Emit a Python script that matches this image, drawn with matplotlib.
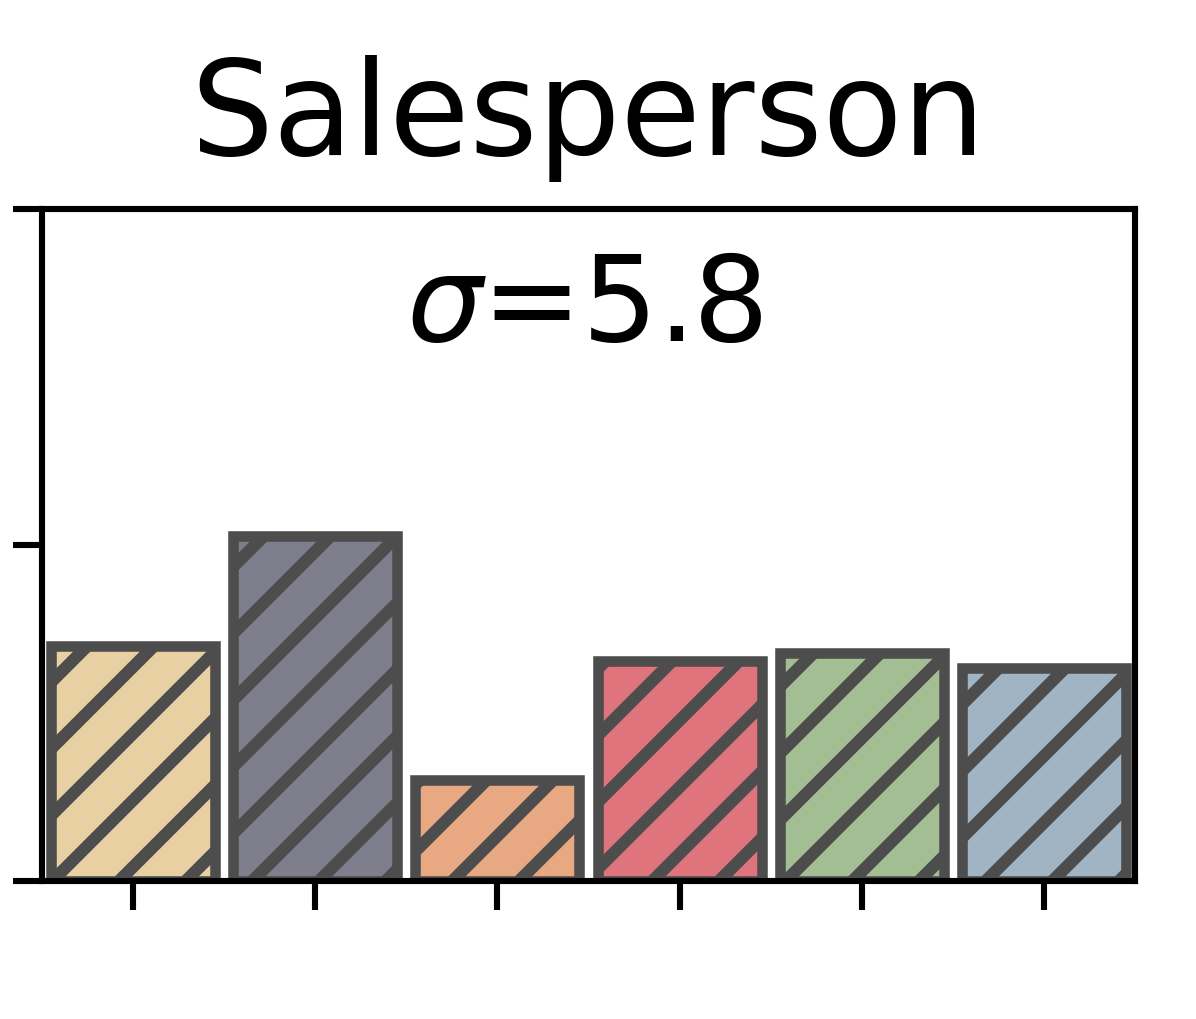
import numpy as np
import matplotlib
matplotlib.use('Agg')
import matplotlib.pyplot as plt

# Bar data (y-axis 0..50).
people = ['A', 'B', 'C', 'D', 'E', 'F']
values = [17.5, 25.7, 7.5, 16.4, 17.0, 15.9]
colors = ['#E8D0A2', '#7F7E8C', '#E8A882', '#E0747C', '#A2BE92', '#A0B4C4']
title = 'Salesperson'
sigmaLabel = r'$\sigma$=5.8'
yTicks = [0, 25, 50]

plt.rcParams['hatch.linewidth'] = 2.2

# Get plot.
fig = plt.figure(figsize=(2.99, 2.55), dpi=400)
ax = fig.add_axes([0.035, 0.135, 0.914, 0.659])

# Plot bars.
ind = np.arange(len(people))
ax.bar(ind, values, width=0.9, color=colors, edgecolor='#4D4D4D',
       linewidth=1.9, hatch='//', zorder=2)

# Sigma label.
ax.text(0.496, 0.854, sigmaLabel, transform=ax.transAxes, ha='center',
        va='center', fontsize=21.5)

# Plot setup.
ax.set_xlim(-0.5, len(people) - 0.5)
ax.set_ylim(yTicks[0], yTicks[-1])
ax.set_xticks(ind)
ax.set_xticklabels([])
ax.set_yticks(yTicks)
ax.set_yticklabels([])
ax.tick_params(length=5.2, width=1.1)
for s in ax.spines.values():
  s.set_linewidth(1.1)
ax.set_title(title, fontsize=23.5, pad=10)

fig.savefig('out.png', dpi=400)
